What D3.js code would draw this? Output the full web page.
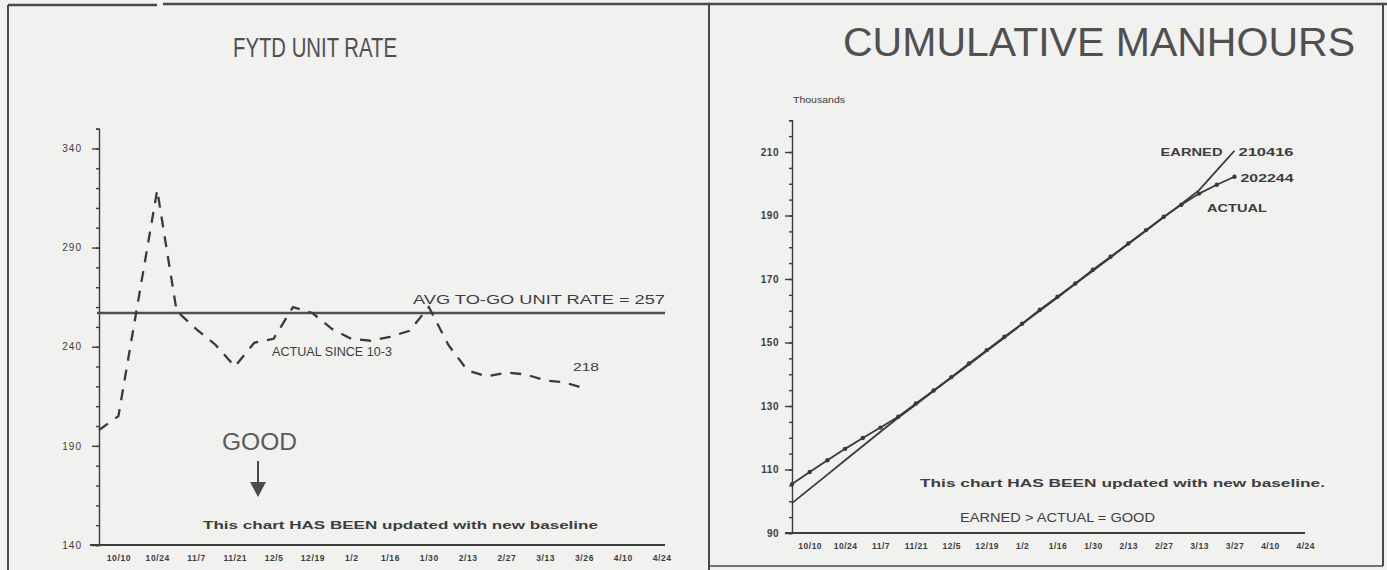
<!DOCTYPE html>
<html><head><meta charset="utf-8">
<script src="https://cdn.jsdelivr.net/npm/d3@7"></script>
<style>
body{margin:0;background:#f1f1ef;}
svg{display:block;font-family:"Liberation Sans",Arial,sans-serif;}
</style></head><body>
<svg id="c" width="1387" height="570"></svg>
<script>
// ---- data ----
const weeks = ["10/3","10/10","10/17","10/24","10/31","11/7","11/14","11/21","11/28","12/5","12/12","12/19","12/26","1/2","1/9","1/16","1/23","1/30","2/6","2/13","2/20","2/27","3/6","3/13","3/20","3/27","4/3","4/10","4/17","4/24"];
const tickLabels = ["10/10","10/24","11/7","11/21","12/5","12/19","1/2","1/16","1/30","2/13","2/27","3/13","3/27","4/10","4/24"];
const leftTickLabels = ["10/10","10/24","11/7","11/21","12/5","12/19","1/2","1/16","1/30","2/13","2/27","3/13","3/26","4/10","4/24"];
const unitRateActual = [198,205,262,319,258,249,241,230,242,244,260,257,249,244,243,245,248,260,241,228,225,227,226,223,222,219];
const avgToGo = 257;
const unitRateTicks = [140,190,240,290,340];
const earned = [99.4,103.9,108.4,112.9,117.4,121.9,126.3,130.5,134.7,138.9,143.1,147.3,151.5,155.8,160.0,164.2,168.4,172.6,176.8,181.0,185.2,189.4,193.6,198.0,204.2,210.4];
const actual = [105.4,109.2,112.9,116.5,119.9,123.2,126.6,130.8,134.9,139.1,143.4,147.6,151.8,155.9,160.3,164.4,168.6,172.9,177.0,181.2,185.4,189.6,193.4,196.9,199.7,202.2];
const manhourTicks = [90,110,130,150,170,190,210];

const svg = d3.select("#c");
const ink = "#3d3d3d";

function txt(g, x, y, s, size, opts={}) {
  const t = g.append("text").attr("x",x).attr("y",y).attr("font-size",size).attr("fill",opts.fill||ink).text(s);
  if (opts.anchor) t.attr("text-anchor",opts.anchor);
  if (opts.bold) t.attr("font-weight","bold");
  if (opts.len) t.attr("textLength",opts.len).attr("lengthAdjust","spacingAndGlyphs");
  return t;
}

// ---- frame ----
const frame = svg.append("g").attr("stroke","#4a4a4a").attr("fill","none");
frame.append("line").attr("x1",8).attr("x2",157).attr("y1",5).attr("y2",5).attr("stroke-width",2.5);
frame.append("line").attr("x1",163).attr("x2",1387).attr("y1",4).attr("y2",4).attr("stroke-width",2.5);
frame.append("line").attr("x1",8).attr("x2",8).attr("y1",5).attr("y2",570).attr("stroke-width",2);
frame.append("line").attr("x1",709).attr("x2",709).attr("y1",5).attr("y2",570).attr("stroke-width",2);
frame.append("line").attr("x1",1383).attr("x2",1383).attr("y1",4).attr("y2",566).attr("stroke-width",2);
frame.append("line").attr("x1",709).attr("x2",1383).attr("y1",566).attr("y2",566).attr("stroke-width",1.5);

// ================= LEFT CHART =================
const xL = d3.scalePoint().domain(weeks).range([99, 661.6]);
const yL = d3.scaleLinear().domain([140,350]).range([545, 128.6]);
const gL = svg.append("g");

txt(gL, 315, 57, "FYTD UNIT RATE", 28, {anchor:"middle", fill:"#505050", len:164});

gL.append("g").attr("transform","translate(99,0)")
  .call(d3.axisLeft(yL).tickValues(d3.range(140,351,10)).tickSize(3).tickFormat(""))
  .call(g=>{g.selectAll("line,path").attr("stroke",ink).attr("stroke-width",1.4);});
gL.append("g").attr("transform","translate(99,0)")
  .call(d3.axisLeft(yL).tickValues(unitRateTicks).tickSize(7).tickPadding(10))
  .call(g=>{g.select(".domain").remove();
    g.selectAll("line").attr("stroke",ink).attr("stroke-width",1.4);
    g.selectAll("text").attr("font-size",10).attr("fill",ink).attr("font-family","Liberation Sans").attr("letter-spacing",1);});
gL.append("line").attr("x1",90).attr("x2",665).attr("y1",yL(140)).attr("y2",yL(140))
  .attr("stroke",ink).attr("stroke-width",2);
gL.append("g").attr("transform",`translate(0,${yL(140)})`)
  .call(d3.axisBottom(xL).tickValues(tickLabels).tickSize(0).tickPadding(10)
        .tickFormat((d,i)=>leftTickLabels[i]))
  .call(g=>{g.select(".domain").remove();
    g.selectAll("text").attr("font-size",8.5).attr("font-weight","bold").attr("fill",ink).attr("letter-spacing",0.6);});

gL.append("line").attr("x1",97).attr("x2",665).attr("y1",yL(avgToGo)).attr("y2",yL(avgToGo))
  .attr("stroke","#505050").attr("stroke-width",2.6);
txt(gL, 665, yL(avgToGo)-9, "AVG TO-GO UNIT RATE = 257", 12, {anchor:"end", len:252});

const lineL = d3.line().x((d,i)=>xL(weeks[i])).y(d=>yL(d));
gL.append("path").datum(unitRateActual).attr("d",lineL).attr("fill","none")
  .attr("stroke","#3a3a3a").attr("stroke-width",2.3).attr("stroke-dasharray","11,9");

txt(gL, 272, 356, "ACTUAL SINCE 10-3", 12, {len:120});
txt(gL, 573, 371, "218", 11, {len:26});
txt(gL, 222, 450, "GOOD", 23, {fill:"#5a5a5a", len:75});
gL.append("line").attr("x1",258).attr("x2",258).attr("y1",461).attr("y2",486).attr("stroke","#4a4a4a").attr("stroke-width",2);
gL.append("path").attr("d","M250,482 L266,482 L258,497 Z").attr("fill","#4a4a4a");
txt(gL, 203, 529, "This chart HAS BEEN updated with new baseline", 10, {bold:true, len:395});

// ================= RIGHT CHART =================
const xR = d3.scalePoint().domain(weeks).range([792, 1305.3]);
const yR = d3.scaleLinear().domain([90,220]).range([533, 120.25]);
const gR = svg.append("g");

txt(gR, 1099, 56, "CUMULATIVE MANHOURS", 40, {anchor:"middle", fill:"#505050", len:512});
txt(gR, 793, 103, "Thousands", 9, {len:52});

gR.append("g").attr("transform","translate(792,0)")
  .call(d3.axisLeft(yR).tickValues(d3.range(90,221,5)).tickSize(3).tickFormat(""))
  .call(g=>{g.selectAll("line,path").attr("stroke",ink).attr("stroke-width",1.4);});
gR.append("g").attr("transform","translate(792,0)")
  .call(d3.axisLeft(yR).tickValues(manhourTicks).tickSize(7).tickPadding(6))
  .call(g=>{g.select(".domain").remove();
    g.selectAll("line").attr("stroke",ink).attr("stroke-width",1.4);
    g.selectAll("text").attr("font-size",10).attr("font-weight","bold").attr("fill",ink).attr("font-family","Liberation Sans").attr("letter-spacing",0.5);});
gR.append("line").attr("x1",785).attr("x2",1305).attr("y1",yR(90)).attr("y2",yR(90))
  .attr("stroke",ink).attr("stroke-width",2);
gR.append("g").attr("transform",`translate(0,${yR(90)})`)
  .call(d3.axisBottom(xR).tickValues(tickLabels).tickSize(0).tickPadding(10))
  .call(g=>{g.select(".domain").remove();
    g.selectAll("text").attr("font-size",8.5).attr("font-weight","bold").attr("fill",ink).attr("letter-spacing",0.5);});

const lineR = d3.line().x((d,i)=>xR(weeks[i])).y(d=>yR(d));
gR.append("path").datum(earned).attr("d",lineR).attr("fill","none").attr("stroke","#3a3a3a").attr("stroke-width",1.8);
gR.append("path").datum(actual).attr("d",lineR).attr("fill","none").attr("stroke","#3a3a3a").attr("stroke-width",1.8);
gR.append("g").selectAll("circle").data(actual).join("circle")
  .attr("cx",(d,i)=>xR(weeks[i])).attr("cy",d=>yR(d)).attr("r",2.2).attr("fill","#3a3a3a");

const eEnd = earned.length-1, aEnd = actual.length-1;
txt(gR, xR(weeks[eEnd])-12, yR(earned[eEnd])+5, "EARNED", 11, {anchor:"end", bold:true, len:62});
txt(gR, xR(weeks[eEnd])+4, yR(earned[eEnd])+5, "210416", 11, {bold:true, len:55});
txt(gR, xR(weeks[aEnd])+6, yR(actual[aEnd])+5, "202244", 11, {bold:true, len:53});
txt(gR, 1207, 212, "ACTUAL", 11, {bold:true, len:60});
txt(gR, 920, 487, "This chart HAS BEEN updated with new baseline.", 10, {bold:true, len:405});
txt(gR, 960, 522, "EARNED > ACTUAL = GOOD", 12, {len:195});
</script>
</body></html>
